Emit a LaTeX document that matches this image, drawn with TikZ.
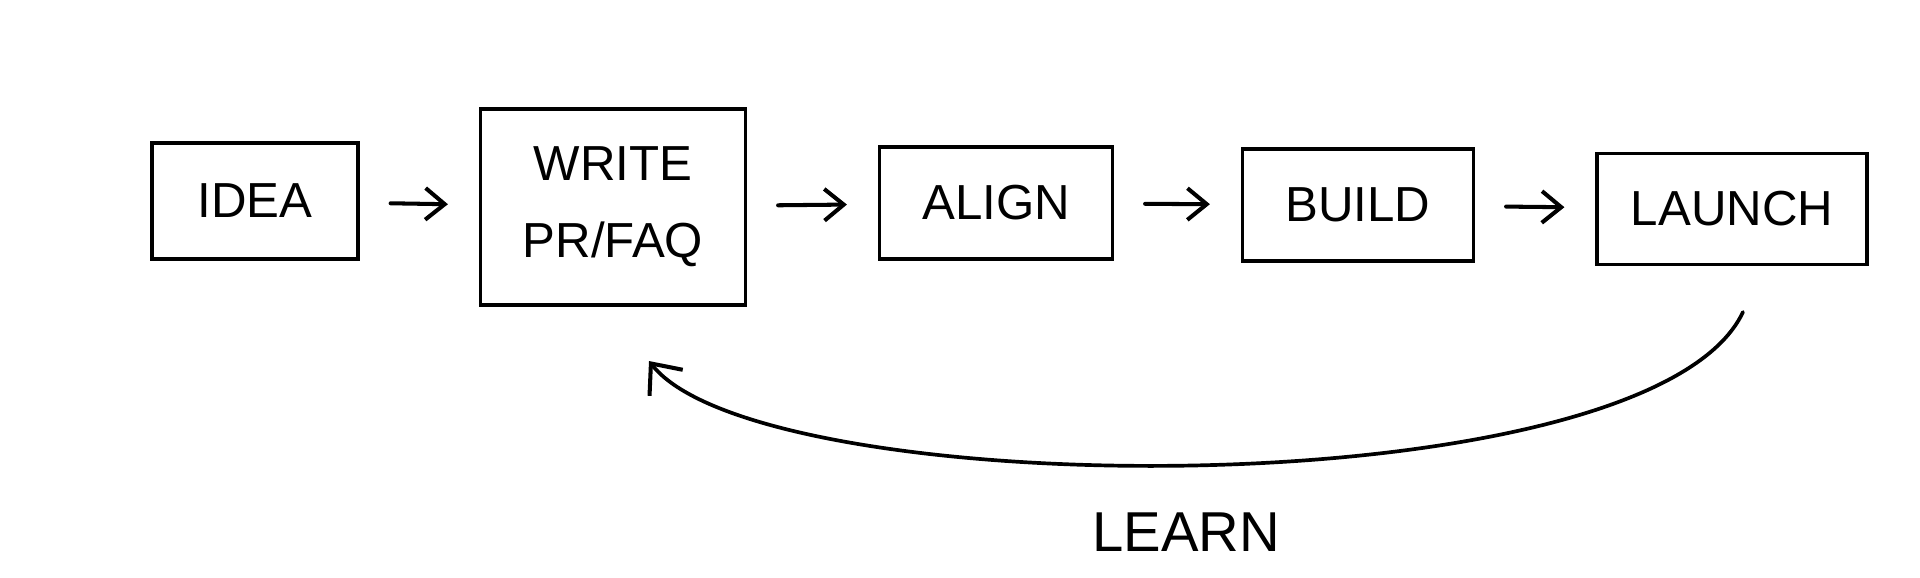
\documentclass[tikz,border=0pt]{standalone}
\usepackage{fontspec}
\setmainfont{Liberation Sans}
\usepackage{tikz}
\usetikzlibrary{calc, arrows.meta}

\begin{document}
\begin{tikzpicture}[
        stage/.style = {draw = black, line width = 0.95pt, align = center, inner sep = 0pt,
                        font = \fontsize{14}{22}\selectfont},
        flow/.style = {black, line width = 1.15pt, line cap = round,
                       -{Straight Barb[length = 5.5pt, width = 9pt, line width = 1.15pt]},
                       shorten < = 8.8pt, shorten > = 8.8pt}
    ]
            \useasboundingbox (0, 0) rectangle (19.2, -5.77);
            
            \node[stage, minimum width = 2.06cm, minimum height = 1.16cm] (idea) at (2.55, -2.01) {IDEA};
            \node[stage, minimum width = 2.65cm, minimum height = 1.96cm] (write) at (6.13, -2.07) {WRITE\\PR/FAQ};
            \node[stage, minimum width = 2.33cm, minimum height = 1.12cm] (align) at (9.96, -2.03) {ALIGN};
            \node[stage, minimum width = 2.31cm, minimum height = 1.12cm] (build) at (13.58, -2.05) {BUILD};
            \node[stage, minimum width = 2.70cm, minimum height = 1.11cm] (launch) at (17.32, -2.09) {LAUNCH};
            
            \draw[flow](idea) -- (write);
            \draw[flow](write) -- (align);
            \draw[flow](align) -- (build);
            \draw[flow](build) -- (launch);
            
            \coordinate (loopstart) at (17.43, -3.12);
            \coordinate (loopend) at (6.49, -3.61);
            \draw[black, line width = 1.05pt, line cap = round,
                  -{Straight Barb[length = 7pt, width = 12pt, line width = 1.15pt]}]
                (loopstart) .. controls (16.5, -5.1) and (7.62, -5.05) .. (loopend);
            \node[font = \fontsize{16}{20}\selectfont] (learn) at (11.86, -5.32) {LEARN};
            
        \end{tikzpicture}
\end{document}
